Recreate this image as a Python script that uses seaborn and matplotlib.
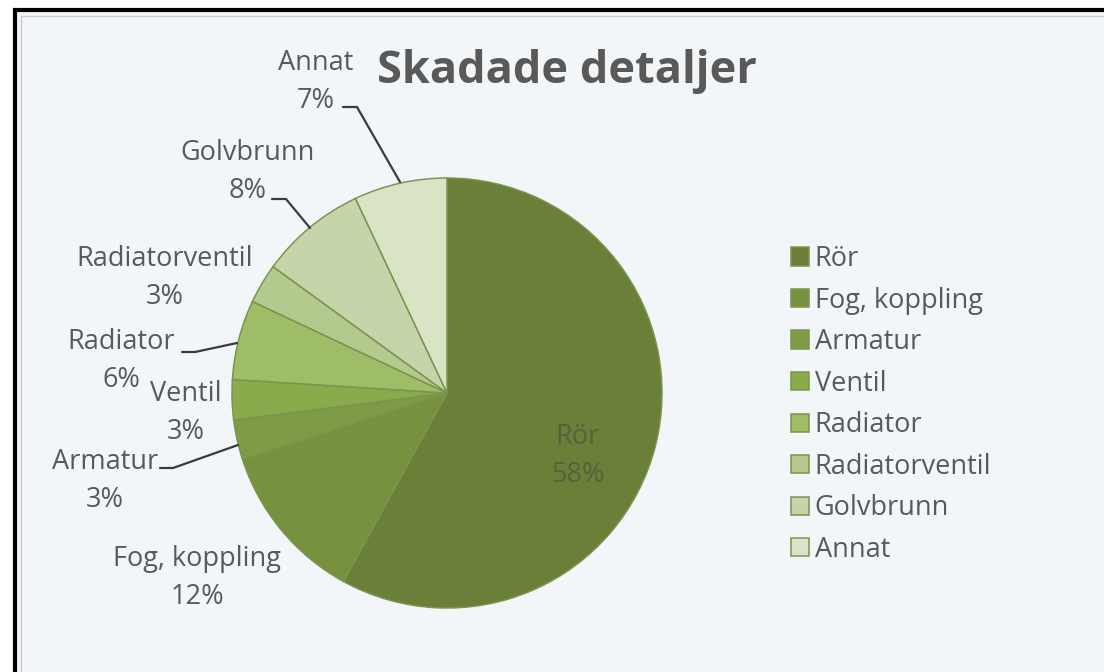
import seaborn as sns
import matplotlib.pyplot as plt
from matplotlib.patches import Rectangle

sns.set_theme(style="white")
plt.rcParams["font.family"] = ["Open Sans", "DejaVu Sans"]

categories = ["Rör", "Fog, koppling", "Armatur", "Ventil", "Radiator",
              "Radiatorventil", "Golvbrunn", "Annat"]
shares = [58, 12, 3, 3, 6, 3, 8, 7]
slice_colors = ["#6a8038", "#77913f", "#7f9b46", "#8aab4c", "#9fbc66",
                "#b3c98d", "#c6d5a9", "#d9e4c6"]
title = "Skadade detaljer"

W, H = 1104, 672
CX, CY, R = 447, 393, 215
fig = plt.figure(figsize=(W / 100, H / 100), dpi=100, facecolor="white")

# chart area frame
fig.patches.append(Rectangle((15 / W, -0.1), 1.2, 1 - 10 / H + 0.1, transform=fig.transFigure,
                             facecolor="#f3f6f9", edgecolor="black", lw=3, zorder=-5))
fig.patches.append(Rectangle((21 / W, -0.1), 1.2, 1 - 16 / H + 0.1, transform=fig.transFigure,
                             facecolor="none", edgecolor="#c9cccf", lw=1, zorder=-4))

ax = fig.add_axes([(CX - R) / W, (H - CY - R) / H, 2 * R / W, 2 * R / H])
ax.set_facecolor("none")

wedges, _ = ax.pie(shares, colors=slice_colors, startangle=90, counterclock=False,
                   radius=1, wedgeprops=dict(edgecolor="#7b9450", linewidth=1.1))
ax.set_xlim(-1, 1)
ax.set_ylim(-1, 1)
ax.set_aspect("auto")
ax.axis("off")


def px(x, y):
    return (x - CX) / R, (CY - y) / R


label_pos = {
    "Rör": (578, 456),
    "Fog, koppling": (197, 578),
    "Armatur": (105, 481),
    "Ventil": (186, 413),
    "Radiator": (121, 361),
    "Radiatorventil": (165, 278),
    "Golvbrunn": (248, 172),
    "Annat": (316, 82),
}
leaders = {
    "Annat": [(343, 107), (357, 107), (400, 182)],
    "Golvbrunn": [(272, 199), (286, 199), (310, 228)],
    "Radiator": [(182, 352), (195, 352), (237, 343)],
    "Armatur": [(160, 468), (173, 468), (238, 445)],
}

for name, val in zip(categories, shares):
    x, y = px(*label_pos[name])
    color = "#56623f" if name == "Rör" else "#595959"
    ax.text(x, y, f"{name}\n{val}%", ha="center", va="center", fontsize=19.5,
            color=color, linespacing=1.43, clip_on=False)
    if name in leaders:
        pts = [px(*p) for p in leaders[name]]
        ax.plot([p[0] for p in pts], [p[1] for p in pts], color="#3a3a3a",
                lw=1.6, clip_on=False)

fig.text(567 / W, 1 - 72 / H, title, ha="center", va="center", fontsize=32.5,
         fontweight="bold", color="#595959")

leg = ax.legend(wedges, categories, loc="upper left",
                bbox_to_anchor=(791 / W, 1 - 245 / H), bbox_transform=fig.transFigure,
                frameon=False, fontsize=19.5, handlelength=0.66, handleheight=0.66,
                handletextpad=0.22, labelspacing=0.5, borderaxespad=0, borderpad=0)
for t in leg.get_texts():
    t.set_color("#595959")

fig.savefig("out.png", dpi=100, facecolor=fig.get_facecolor())
